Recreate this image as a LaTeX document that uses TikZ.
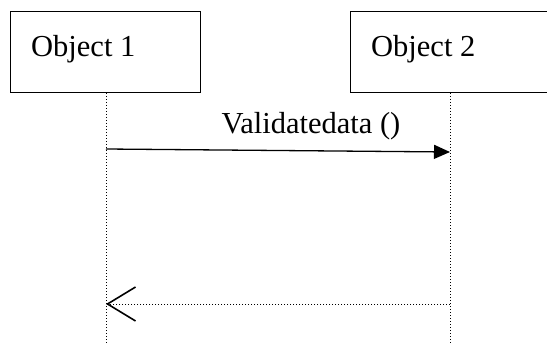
\documentclass[tikz,border=0pt]{standalone}
\usepackage{fontspec}
\setmainfont{Liberation Serif}
\usepackage{tikz}
\usetikzlibrary{arrows.meta, positioning}

\begin{document}
\begin{tikzpicture}[
        x=1pt, y=-1pt,
        objbox/.style={rectangle, draw=black, line width=1.2pt, fill=white, inner sep=0pt, minimum width=190pt, minimum height=81pt, anchor=north west},
        objtext/.style={font=\fontsize{30.5}{36}\selectfont, anchor=base west, inner sep=0pt},
        msgtext/.style={font=\fontsize{30.5}{36}\selectfont, anchor=base, inner sep=0pt},
        lifeline/.style={line width=1pt, dotted},
        callmsg/.style={-{Triangle[length=16pt, width=14pt]}, line width=1.3pt},
        replymsg/.style={-{Straight Barb[length=28pt, width=34pt, line width=1.6pt]}, line width=1pt, dotted}
    ]
        \clip (0,0) rectangle (547,345);
        \useasboundingbox (0,0) rectangle (547,345);

        % Objects
        \node[objbox] (obj1) at (10,11) {};
        \node[objbox, minimum width=260pt] (obj2) at (350,11) {};
        \node[objtext] (obj1txt) at (31,57) {Object 1};
        \node[objtext] (obj2txt) at (371,57) {Object 2};

        % Lifelines
        \coordinate (life1top) at (106,93);
        \coordinate (life2top) at (450,93);
        \coordinate (life1bot) at (106,345);
        \coordinate (life2bot) at (450,345);
        \draw[lifeline] (life1top) -- (life1bot);
        \draw[lifeline] (life2top) -- (life2bot);

        % Messages
        \coordinate (callfrom) at (106,149);
        \coordinate (callto) at (450,152);
        \draw[callmsg] (callfrom) -- (callto);
        \node[msgtext] (calllbl) at (311,133) {Validatedata ()};

        \coordinate (replyfrom) at (450,304);
        \coordinate (replyto) at (106,304);
        \draw[replymsg] (replyfrom) -- (replyto);
    \end{tikzpicture}
\end{document}
